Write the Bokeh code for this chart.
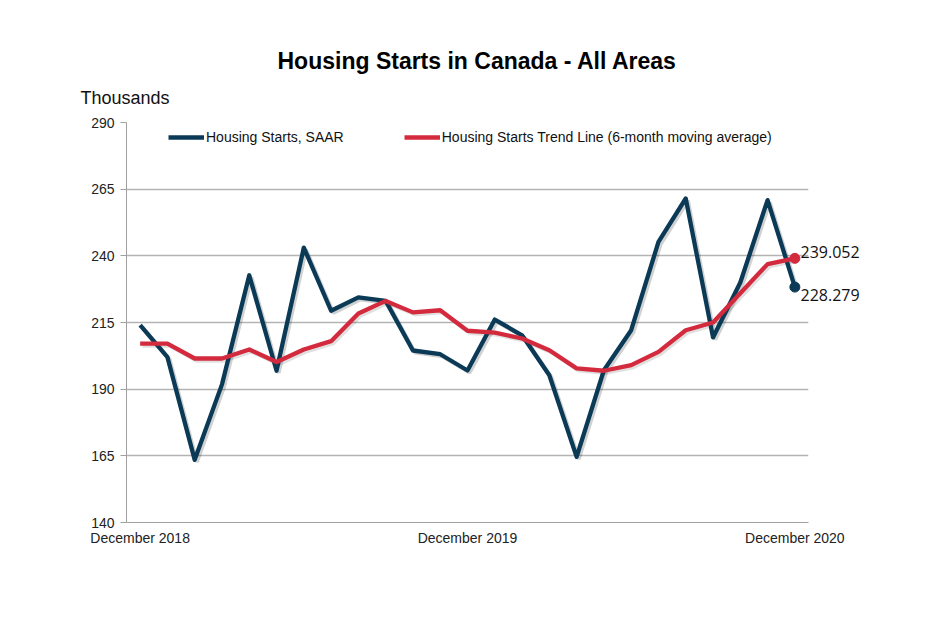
from bokeh.plotting import figure
from bokeh.models import (ColumnDataSource, Legend, LegendItem, FixedTicker,
                          Range1d, LinearAxis, Title)
from bokeh.embed import file_html
from bokeh.resources import INLINE

# ---- data ----
month_index = list(range(25))
tick_positions = [0, 12, 24]
tick_labels = ["December 2018", "December 2019", "December 2020"]
starts_saar = [214.0, 202.0, 163.5, 191.8, 232.7, 196.9, 243.1, 219.4, 224.4, 223.1,
               204.5, 203.1, 197.0, 216.1, 210.2, 195.2, 164.6, 197.1, 212.1, 245.2,
               261.5, 209.4, 230.0, 260.9, 228.279]
trend_6m = [207.1, 207.1, 201.5, 201.5, 204.9, 200.2, 204.9, 208.0, 218.4, 223.1,
            218.8, 219.6, 211.9, 211.2, 209.0, 204.6, 197.8, 196.9, 199.0, 204.0,
            212.1, 215.0, 226.0, 236.9, 239.052]
y_ticks = [140, 165, 190, 215, 240, 265, 290]

BLUE = "#0b3a57"
RED = "#d42a3d"
FONT = "Liberation Sans"

p = figure(width=942, height=610, output_backend="svg", toolbar_location=None,
           x_range=Range1d(-0.5, 24.5), y_range=Range1d(140, 290),
           min_border_left=126, min_border_right=134, min_border_top=122,
           min_border_bottom=88)
p.outline_line_color = None
p.background_fill_color = "white"
p.border_fill_color = "white"

# titles
p.title.text = "Housing Starts in Canada - All Areas"
p.title.text_font = FONT
p.title.text_font_size = "23px"
p.title.text_font_style = "bold"
p.title.text_color = "#000000"
p.title.align = "left"
p.title.offset = 151
p.title.standoff = -5
p.add_layout(Title(text="Thousands", text_font=FONT, text_font_size="18px",
                   text_font_style="normal", text_color="#111111", align="left",
                   offset=-46, standoff=29), "above")

# grid
p.xgrid.grid_line_color = None
p.ygrid.grid_line_color = "#b4b4b4"
p.ygrid.grid_line_width = 1.3
p.ygrid.ticker = FixedTicker(ticks=y_ticks)

# axes
p.yaxis.ticker = FixedTicker(ticks=y_ticks)
p.yaxis.axis_line_color = "#a0a0a0"
p.yaxis.major_tick_line_color = "#a0a0a0"
p.yaxis.major_tick_out = 6
p.yaxis.major_tick_in = 0
p.yaxis.minor_tick_line_color = None
p.yaxis.major_label_text_font = FONT
p.yaxis.major_label_text_font_size = "14px"
p.yaxis.major_label_text_color = "#222222"
p.yaxis.major_label_standoff = 6

p.xaxis.ticker = FixedTicker(ticks=tick_positions)
p.xaxis.major_label_overrides = {t: l for t, l in zip(tick_positions, tick_labels)}
p.xaxis.axis_line_color = "#a0a0a0"
p.xaxis.major_tick_line_color = None
p.xaxis.minor_tick_line_color = None
p.xaxis.major_label_text_font = FONT
p.xaxis.major_label_text_font_size = "14px"
p.xaxis.major_label_text_color = "#222222"
p.xaxis.major_label_standoff = 1

# right-hand value labels for the last points (nudged above / below their points)
label_pos = [trend_6m[-1] + 2.3, starts_saar[-1] - 3.0]
label_txt = [f"{trend_6m[-1]:.3f}", f"{starts_saar[-1]:.3f}"]
p.extra_y_ranges = {"labels": Range1d(140, 290)}
rax = LinearAxis(y_range_name="labels", ticker=FixedTicker(ticks=label_pos),
                 major_label_overrides=dict(zip(label_pos, label_txt)),
                 axis_line_color=None, major_tick_line_color=None,
                 minor_tick_line_color=None, major_tick_out=0, major_tick_in=0,
                 major_label_standoff=-8, major_label_text_font="Open Sans",
                 major_label_text_font_size="16px", major_label_text_color="#111111")
p.add_layout(rax, "right")

src = ColumnDataSource(dict(x=month_index, saar=starts_saar, trend=trend_6m,
                            xs=[v + 0.08 for v in month_index],
                            saar_s=[v - 0.8 for v in starts_saar],
                            trend_s=[v - 0.8 for v in trend_6m]))

# shadows
p.line("xs", "saar_s", source=src, line_color="#000000", line_alpha=0.18, line_width=4)
p.line("xs", "trend_s", source=src, line_color="#000000", line_alpha=0.12, line_width=4)

r_saar = p.line("x", "saar", source=src, line_color=BLUE, line_width=4.3, line_join="round")
r_trend = p.line("x", "trend", source=src, line_color=RED, line_width=4.3, line_join="round")

# end markers
p.scatter([month_index[-1]], [starts_saar[-1]], size=10, color=BLUE)
p.scatter([month_index[-1]], [trend_6m[-1]], size=10, color=RED)

legend = Legend(items=[LegendItem(label="Housing Starts, SAAR", renderers=[r_saar]),
                       LegendItem(label="Housing Starts Trend Line (6-month moving average)",
                                  renderers=[r_trend])],
                orientation="horizontal", location=(42, 377), glyph_width=36,
                glyph_height=16, label_text_font=FONT, label_text_font_size="14px",
                label_text_color="#111111", label_standoff=2, spacing=60, padding=4,
                border_line_color=None, background_fill_alpha=0)
p.add_layout(legend)

open("out.html", "w").write(file_html(p, INLINE))
